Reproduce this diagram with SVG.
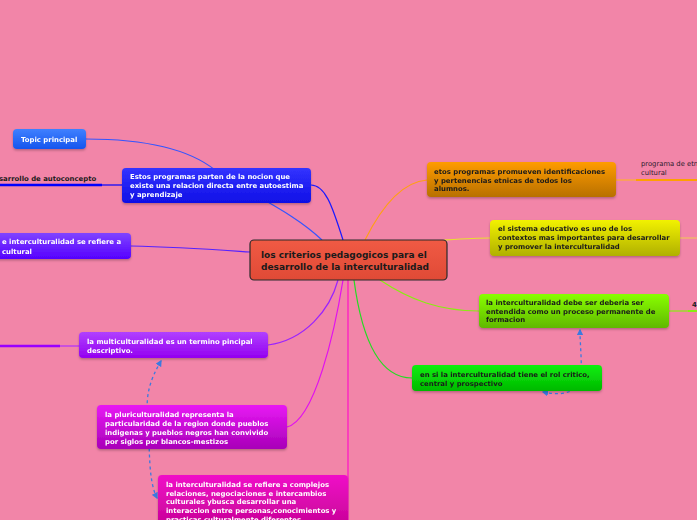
<svg xmlns="http://www.w3.org/2000/svg" width="697" height="520" viewBox="0 0 697 520">
<style>
.t{font-family:"DejaVu Sans",Verdana,sans-serif;font-weight:bold;font-size:6.9px}
.w{fill:#ffffff}
.d{fill:#1a1a1a}
.c{fill:none;stroke-width:1.2}
.dash{fill:none;stroke:#3a7ae0;stroke-width:1.3;stroke-dasharray:3 3}
.n{filter:url(#sh)}
.ct{font-family:"DejaVu Sans",Verdana,sans-serif;font-weight:bold;font-size:9px;fill:#1a1a1a}
</style>
<defs>
<filter id="sh" x="-10%" y="-20%" width="120%" height="150%"><feDropShadow dx="0" dy="1.5" stdDeviation="1.2" flood-color="#000" flood-opacity="0.25"/></filter>
<linearGradient id="gTop" x1="0" y1="0" x2="0" y2="1"><stop offset="0" stop-color="#3f80ff"/><stop offset="1" stop-color="#1555ee"/></linearGradient>
<linearGradient id="gBlue" x1="0" y1="0" x2="0" y2="1"><stop offset="0" stop-color="#3333ff"/><stop offset="1" stop-color="#0f0fe6"/></linearGradient>
<linearGradient id="gPur" x1="0" y1="0" x2="0" y2="1"><stop offset="0" stop-color="#8044ff"/><stop offset="1" stop-color="#5500ff"/></linearGradient>
<linearGradient id="gVio" x1="0" y1="0" x2="0" y2="1"><stop offset="0" stop-color="#b040ff"/><stop offset="1" stop-color="#9400f0"/></linearGradient>
<linearGradient id="gMag" x1="0" y1="0" x2="0" y2="1"><stop offset="0" stop-color="#e818f4"/><stop offset="1" stop-color="#a800b8"/></linearGradient>
<linearGradient id="gPink" x1="0" y1="0" x2="0" y2="1"><stop offset="0" stop-color="#f010c8"/><stop offset="1" stop-color="#c0008e"/></linearGradient>
<linearGradient id="gOr" x1="0" y1="0" x2="0" y2="1"><stop offset="0" stop-color="#ff9c00"/><stop offset="1" stop-color="#b87000"/></linearGradient>
<linearGradient id="gYe" x1="0" y1="0" x2="0" y2="1"><stop offset="0" stop-color="#f2f200"/><stop offset="1" stop-color="#b0b000"/></linearGradient>
<linearGradient id="gLi" x1="0" y1="0" x2="0" y2="1"><stop offset="0" stop-color="#88ff00"/><stop offset="1" stop-color="#60b800"/></linearGradient>
<linearGradient id="gGr" x1="0" y1="0" x2="0" y2="1"><stop offset="0" stop-color="#10f010"/><stop offset="1" stop-color="#00b800"/></linearGradient>
<linearGradient id="gC" x1="0" y1="0" x2="0" y2="1"><stop offset="0" stop-color="#f05a44"/><stop offset="1" stop-color="#e04a36"/></linearGradient>
<marker id="ar" viewBox="0 0 10 10" refX="8" refY="5" markerWidth="5" markerHeight="5" orient="auto-start-reverse"><path d="M0,0L10,5L0,10z" fill="#3a7ae0"/></marker>
</defs>
<rect width="697" height="520" fill="#f285a8"/>

<g id="connectors">
<path class="c" stroke="#3355ff" d="M86,139 C150,139 190,150 215,170 C250,195 290,210 322,240"/>
<path class="c" stroke="#1a1aff" d="M311,185 C325,185 332,205 343,240"/>
<path class="c" stroke="#5522ff" d="M131,246 C180,247 220,250 250,252"/>
<path class="c" stroke="#0000ff" d="M102,185 L122,185"/>
<path fill="none" stroke="#0000ff" stroke-width="2.5" d="M0,185 L102,185"/>
<path class="c" stroke="#9922ff" d="M268,345 C305,340 330,310 338,280"/>
<path fill="none" stroke="#9900ff" stroke-width="2.5" d="M0,346 L60,346"/>
<path class="c" stroke="#b030ff" d="M60,346 L79,346"/>
<path class="c" stroke="#e010f0" d="M287,427 C315,420 335,330 343,280"/>
<path class="c" stroke="#ff10c8" d="M348,280 L348,520"/>
<path class="c" stroke="#ffa010" d="M365,240 C380,210 400,182 427,180"/>
<path class="c" stroke="#ffb030" d="M616,180 L636,180"/>
<path fill="none" stroke="#ffa000" stroke-width="2" d="M636,180 L697,180"/>
<path class="c" stroke="#e8e030" d="M444,240 C460,239 475,238 490,238"/>
<path class="c" stroke="#f0c060" d="M680,238 L697,238"/>
<path class="c" stroke="#88ee10" d="M380,280 C410,300 440,311 479,311"/>
<path class="c" stroke="#88ee10" d="M669,311 L688,311"/>
<path fill="none" stroke="#88ee10" stroke-width="2" d="M688,311 L697,311"/>
<path class="c" stroke="#22dd22" d="M354,280 C362,340 380,378 412,378"/>
<path class="dash" marker-start="url(#ar)" marker-end="url(#ar)" d="M161,361 C150,380 145,395 148,420 C150,450 148,480 157,498"/>
<path class="dash" marker-start="url(#ar)" marker-end="url(#ar)" d="M543,392 C560,396 580,394 581,375 C582,360 580,345 580,330"/>
</g>

<g id="n-topic" class="n"><rect x="13" y="129" width="73" height="20" rx="4" fill="url(#gTop)"/>
<text class="t w" x="21" y="142">Topic principal</text></g>

<g id="n-autoconcepto"><text class="t d" x="-1" y="181">sarrollo de autoconcepto</text></g>

<g id="n-estos" class="n"><rect x="122" y="168" width="189" height="35" rx="4" fill="url(#gBlue)"/>
<text class="t w" x="130" y="179">Estos programas parten de la nocion que</text>
<text class="t w" x="130" y="188">existe una relacion directa entre autoestima</text>
<text class="t w" x="130" y="197">y aprendizaje</text></g>

<g id="n-inter-left" class="n"><rect x="-10" y="233" width="141" height="26" rx="4" fill="url(#gPur)"/>
<text class="t w" x="2" y="244">e interculturalidad se refiere a</text>
<text class="t w" x="2" y="254">cultural</text></g>

<g id="n-central"><rect x="250" y="240" width="197" height="40" rx="4" fill="url(#gC)" stroke="#2a2a2a" stroke-width="1.2"/>
<text class="ct" x="261" y="258">los criterios pedagogicos para el</text>
<text class="ct" x="261" y="270">desarrollo de la interculturalidad</text></g>

<g id="n-multi" class="n"><rect x="79" y="332" width="189" height="26" rx="4" fill="url(#gVio)"/>
<text class="t w" x="87" y="344">la multiculturalidad es un termino pincipal</text>
<text class="t w" x="87" y="353">descriptivo.</text></g>

<g id="n-pluri" class="n"><rect x="97" y="405" width="190" height="44" rx="4" fill="url(#gMag)"/>
<text class="t w" x="105" y="417">la pluriculturalidad representa la</text>
<text class="t w" x="105" y="426">particularidad de la region donde pueblos</text>
<text class="t w" x="105" y="435">indigenas y pueblos negros han convivido</text>
<text class="t w" x="105" y="444">por siglos por blancos-mestizos</text></g>

<g id="n-intercult" class="n"><rect x="158" y="475" width="190" height="60" rx="4" fill="url(#gPink)"/>
<text class="t w" x="166" y="487">la interculturalidad se refiere a complejos</text>
<text class="t w" x="166" y="496">relaciones, negociaciones e intercambios</text>
<text class="t w" x="166" y="504">culturales ybusca desarrollar una</text>
<text class="t w" x="166" y="513">interaccion entre personas,conocimientos y</text>
<text class="t w" x="166" y="522">practicas culturalmente diferentes.</text></g>

<g id="n-etos" class="n"><rect x="427" y="162" width="189" height="35" rx="4" fill="url(#gOr)"/>
<text class="t d" x="434" y="174">etos programas promueven identificaciones</text>
<text class="t d" x="434" y="183">y pertenencias etnicas de todos los</text>
<text class="t d" x="434" y="191">alumnos.</text></g>

<g id="n-programa"><text font-family="DejaVu Sans,Verdana,sans-serif" font-size="6.8" fill="#2a1a2a" x="641" y="166">programa de etnoeducacion</text>
<text font-family="DejaVu Sans,Verdana,sans-serif" font-size="6.8" fill="#2a1a2a" x="641" y="175">cultural</text></g>

<g id="n-sistema" class="n"><rect x="490" y="220" width="190" height="36" rx="4" fill="url(#gYe)"/>
<text class="t d" x="498" y="231">el sistema educativo es uno de los</text>
<text class="t d" x="498" y="240">contextos mas importantes para desarrollar</text>
<text class="t d" x="498" y="249">y promover la interculturalidad</text></g>

<g id="n-debe" class="n"><rect x="479" y="294" width="190" height="34" rx="4" fill="url(#gLi)"/>
<text class="t d" x="486" y="305">la interculturalidad debe ser deberia ser</text>
<text class="t d" x="486" y="314">entendida como un proceso permanente de</text>
<text class="t d" x="486" y="322">formacion</text></g>

<g id="n-right4"><text class="t d" x="692" y="307">4</text></g>

<g id="n-rol" class="n"><rect x="412" y="365" width="190" height="26" rx="4" fill="url(#gGr)"/>
<text class="t d" x="420" y="377">en si la interculturalidad tiene el rol critico,</text>
<text class="t d" x="420" y="386">central y prospectivo</text></g>
</svg>
